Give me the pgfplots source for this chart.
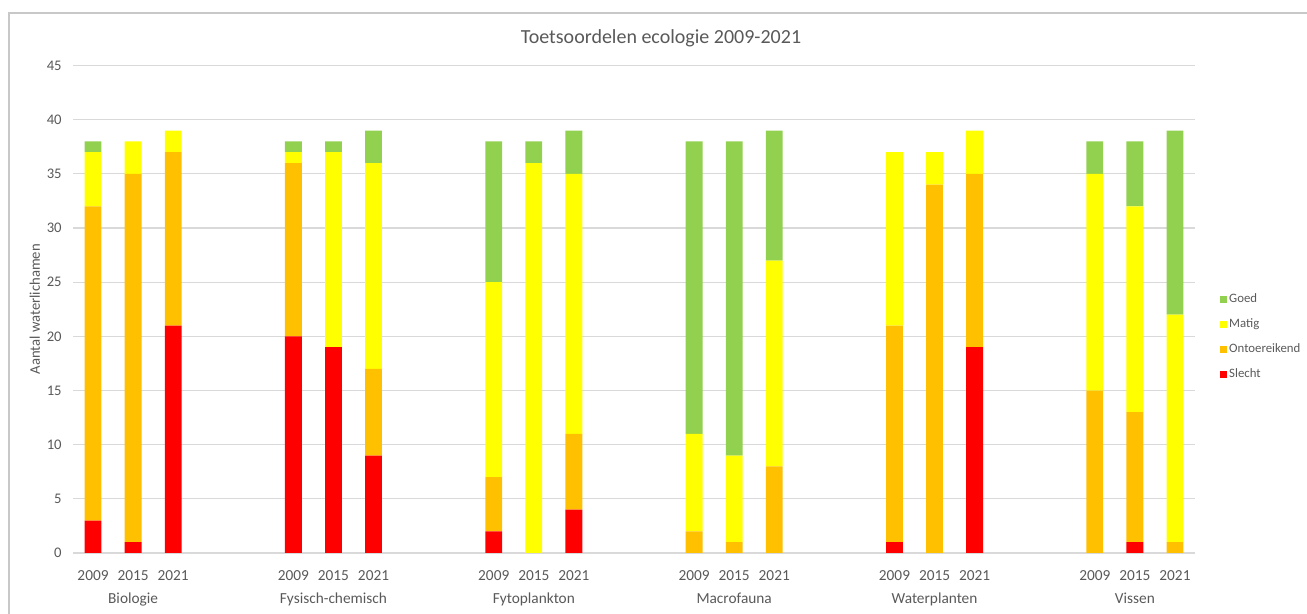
\documentclass[border=0pt]{standalone}
\usepackage{pgfplots}
\pgfplotsset{compat=1.18}
\usepackage{fontspec}
\setmainfont{Carlito}
\definecolor{goed}{HTML}{92D050}
\definecolor{matig}{HTML}{FFFF00}
\definecolor{onto}{HTML}{FFC000}
\definecolor{slecht}{HTML}{FF0000}
\definecolor{txt}{HTML}{595959}
\definecolor{gridc}{HTML}{D9D9D9}
\definecolor{bord}{HTML}{C8C8C8}
\begin{document}
\begin{tikzpicture}
\useasboundingbox (0,0) rectangle (980.25pt,460.5pt);
\draw[bord, line width=1.5pt] (6.75pt,0) -- (6.75pt,450.75pt) -- (980.25pt,450.75pt);
\node[txt, font=\fontsize{15}{18}\selectfont] at (495.75pt,432pt) {Toetsoordelen ecologie 2009-2021};
\begin{axis}[
  at={(54.75pt,45.75pt)}, anchor=south west,
  scale only axis, width=841.5pt, height=365.6pt,
  ybar stacked, bar width=0.42,
  xmin=-0.5, xmax=27.5, ymin=0, ymax=45,
  ytick distance=5,
  ymajorgrids, grid style={gridc, line width=0.8pt},
  axis line style={draw=none},
  major tick length=0pt,
  xtick={0,1,2,5,6,7,10,11,12,15,16,17,20,21,22,25,26,27},
  xticklabels={2009,{2015\\Biologie},2021,2009,{2015\\Fysisch-chemisch},2021,2009,{2015\\Fytoplankton},2021,2009,{2015\\Macrofauna},2021,2009,{2015\\Waterplanten},2021,2009,{2015\\Vissen},2021},
  xticklabel style={anchor=north, align=center, font=\fontsize{11.5}{17.2}\selectfont, text=txt, yshift=-10pt},
  yticklabel style={font=\fontsize{11}{13}\selectfont, text=txt, xshift=-5pt},
  /pgf/number format/assume math mode=true,
  ylabel={Aantal waterlichamen},
  ylabel style={at={(axis description cs:-0.0339,0.5)}, anchor=center, font=\fontsize{11}{13}\selectfont, text=txt},
  reverse legend,
  legend cell align=left,
  legend style={at={(1.0187,0.539)}, anchor=north west, draw=none, fill=none,
    font=\fontsize{9.6}{11}\selectfont, text=txt, row sep=9.6pt, column sep=1pt,
    nodes={inner sep=0.5pt}},
  legend image code/.code={\fill[#1] (0pt,-2.6pt) rectangle (5.2pt,2.6pt);},
]
\addplot[fill=slecht, draw=none] coordinates {(0,3)(1,1)(2,21)(5,20)(6,19)(7,9)(10,2)(11,0)(12,4)(15,0)(16,0)(17,0)(20,1)(21,0)(22,19)(25,0)(26,1)(27,0)};
\addplot[fill=onto, draw=none] coordinates {(0,29)(1,34)(2,16)(5,16)(6,0)(7,8)(10,5)(11,0)(12,7)(15,2)(16,1)(17,8)(20,20)(21,34)(22,16)(25,15)(26,12)(27,1)};
\addplot[fill=matig, draw=none] coordinates {(0,5)(1,3)(2,2)(5,1)(6,18)(7,19)(10,18)(11,36)(12,24)(15,9)(16,8)(17,19)(20,16)(21,3)(22,4)(25,20)(26,19)(27,21)};
\addplot[fill=goed, draw=none] coordinates {(0,1)(1,0)(2,0)(5,1)(6,1)(7,3)(10,13)(11,2)(12,4)(15,27)(16,29)(17,12)(20,0)(21,0)(22,0)(25,3)(26,6)(27,17)};
\legend{Slecht,Ontoereikend,Matig,Goed}
\end{axis}
\end{tikzpicture}
\end{document}
